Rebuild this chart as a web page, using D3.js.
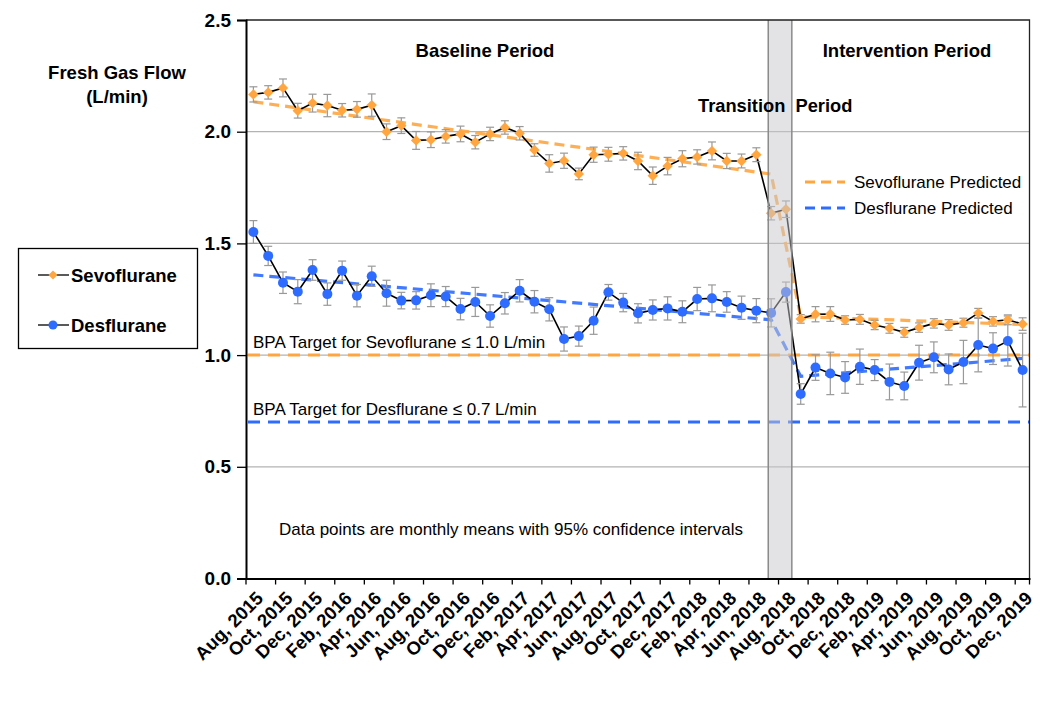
<!DOCTYPE html>
<html><head><meta charset="utf-8">
<script src="https://cdn.jsdelivr.net/npm/d3@7"></script>
<style>body{margin:0;background:#fff;} svg{display:block;font-family:"Liberation Sans",Arial,sans-serif;}</style>
</head><body><svg id="c" width="1050" height="714"></svg>
<script>
const months = ["Aug, 2015","Sep, 2015","Oct, 2015","Nov, 2015","Dec, 2015",
"Jan, 2016","Feb, 2016","Mar, 2016","Apr, 2016","May, 2016","Jun, 2016","Jul, 2016","Aug, 2016","Sep, 2016","Oct, 2016","Nov, 2016","Dec, 2016",
"Jan, 2017","Feb, 2017","Mar, 2017","Apr, 2017","May, 2017","Jun, 2017","Jul, 2017","Aug, 2017","Sep, 2017","Oct, 2017","Nov, 2017","Dec, 2017",
"Jan, 2018","Feb, 2018","Mar, 2018","Apr, 2018","May, 2018","Jun, 2018","Jul, 2018","Aug, 2018","Sep, 2018","Oct, 2018","Nov, 2018","Dec, 2018",
"Jan, 2019","Feb, 2019","Mar, 2019","Apr, 2019","May, 2019","Jun, 2019","Jul, 2019","Aug, 2019","Sep, 2019","Oct, 2019","Nov, 2019","Dec, 2019"];
const tickLabels = ["Aug, 2015","Oct, 2015","Dec, 2015","Feb, 2016","Apr, 2016","Jun, 2016","Aug, 2016","Oct, 2016","Dec, 2016","Feb, 2017","Apr, 2017","Jun, 2017","Aug, 2017","Oct, 2017","Dec, 2017","Feb, 2018","Apr, 2018","Jun, 2018","Aug, 2018","Oct, 2018","Dec, 2018","Feb, 2019","Apr, 2019","Jun, 2019","Aug, 2019","Oct, 2019","Dec, 2019"];
const sevo = [2.167,2.176,2.196,2.094,2.128,2.117,2.096,2.100,2.119,2.000,2.027,1.961,1.964,1.979,1.990,1.953,1.990,2.019,1.993,1.918,1.858,1.870,1.811,1.897,1.899,1.903,1.869,1.803,1.846,1.879,1.887,1.914,1.869,1.869,1.897,1.635,1.653,1.162,1.183,1.184,1.157,1.160,1.135,1.120,1.102,1.123,1.142,1.135,1.145,1.188,1.151,1.158,1.139];
const sevoCI = [0.034,0.03,0.04,0.033,0.04,0.05,0.03,0.035,0.05,0.035,0.035,0.04,0.035,0.03,0.035,0.03,0.03,0.03,0.03,0.028,0.039,0.034,0.026,0.034,0.031,0.03,0.039,0.039,0.039,0.036,0.032,0.04,0.034,0.031,0.031,0.03,0.037,0.019,0.034,0.033,0.019,0.022,0.021,0.022,0.022,0.021,0.021,0.024,0.02,0.021,0.021,0.022,0.028];
const des = [1.551,1.444,1.324,1.284,1.381,1.273,1.378,1.266,1.353,1.277,1.244,1.245,1.268,1.262,1.206,1.238,1.175,1.232,1.288,1.239,1.205,1.072,1.085,1.154,1.281,1.235,1.187,1.202,1.209,1.194,1.251,1.254,1.238,1.212,1.199,1.189,1.282,0.826,0.944,0.918,0.900,0.948,0.933,0.880,0.862,0.966,0.990,0.936,0.969,1.045,1.029,1.063,0.933];
const desCI = [0.051,0.043,0.048,0.054,0.046,0.05,0.043,0.05,0.045,0.058,0.037,0.039,0.051,0.045,0.048,0.065,0.05,0.048,0.05,0.05,0.052,0.054,0.045,0.061,0.035,0.041,0.043,0.045,0.052,0.049,0.052,0.06,0.046,0.052,0.054,0.063,0.045,0.046,0.057,0.095,0.071,0.079,0.047,0.08,0.062,0.078,0.069,0.069,0.097,0.12,0.071,0.112,0.165];
// predicted (segmented regression) knots: [month, value]
const sevoPred = [["Aug, 2015",2.134],["Jul, 2018",1.810],["Sep, 2018",1.172],["Dec, 2019",1.137]];
const desPred = [["Aug, 2015",1.359],["Jul, 2018",1.158],["Sep, 2018",0.905],["Dec, 2019",0.985]];
const targets = [{name:"BPA Target for Sevoflurane \u2264 1.0 L/min", value:1.0, key:"sevo"},{name:"BPA Target for Desflurane \u2264 0.7 L/min", value:0.7, key:"des"}];
const transitionMonths = ["Jul, 2018","Aug, 2018"];
const yTicks = [0,0.5,1.0,1.5,2.0,2.5];

const ORANGE = "#FFA640", BLUE = "#2E6BFF";
const col = {sevo:ORANGE, des:BLUE};
const svg = d3.select("#c");
const L = 246, R = 1030, T = 20, B = 578.5;
const x = d3.scaleBand().domain(months).range([L, R]).padding(0);
const cx = m => x(m) + x.bandwidth()/2;
const y = d3.scaleLinear().domain([0,2.5]).range([B, T]);

// gridlines
svg.append("g").selectAll("line").data(yTicks.filter(v=>v>0 && v<2.5)).join("line")
  .attr("x1",L).attr("x2",R).attr("y1",d=>y(d)).attr("y2",d=>y(d))
  .attr("stroke","#b3b3b3").attr("stroke-width",1.2);

// targets
svg.append("g").selectAll("line").data(targets).join("line")
  .attr("x1",L+2).attr("x2",R).attr("y1",d=>y(d.value)).attr("y2",d=>y(d.value))
  .attr("stroke",d=>col[d.key]).attr("stroke-width",3).attr("stroke-dasharray","12,8");
svg.append("g").selectAll("text").data(targets).join("text")
  .attr("x",253).attr("y",d=>y(d.value)-7).attr("font-size",17).attr("fill","#000").text(d=>d.name);

// predicted
const predLine = d3.line().x(d=>cx(d[0])).y(d=>y(d[1]));
[[sevoPred,ORANGE],[desPred,BLUE]].forEach(([p,c])=>{
  svg.append("path").attr("d",predLine(p)).attr("fill","none").attr("stroke",c)
    .attr("stroke-width",3.2).attr("stroke-dasharray","10,6").attr("opacity",0.9);
});

// data series
function series(vals, ci, color, shape){
  const g = svg.append("g");
  const line = d3.line().x((d,i)=>cx(months[i])).y(d=>y(d));
  g.append("path").attr("d",line(vals)).attr("fill","none").attr("stroke","#000").attr("stroke-width",1.6);
  const eb = g.append("g").attr("stroke","#999").attr("stroke-width",1.2);
  vals.forEach((v,i)=>{
    const xx = cx(months[i]);
    eb.append("line").attr("x1",xx).attr("x2",xx).attr("y1",y(v+ci[i])).attr("y2",y(v-ci[i]));
    eb.append("line").attr("x1",xx-4).attr("x2",xx+4).attr("y1",y(v+ci[i])).attr("y2",y(v+ci[i]));
    eb.append("line").attr("x1",xx-4).attr("x2",xx+4).attr("y1",y(v-ci[i])).attr("y2",y(v-ci[i]));
  });
  if(shape==="diamond"){
    g.selectAll("path.m").data(vals).join("path").attr("class","m")
      .attr("d",(d,i)=>{const a=cx(months[i]), b=y(d), s=5.2; return `M${a},${b-s}L${a+s},${b}L${a},${b+s}L${a-s},${b}Z`;})
      .attr("fill",color);
  } else {
    g.selectAll("circle").data(vals).join("circle")
      .attr("cx",(d,i)=>cx(months[i])).attr("cy",d=>y(d)).attr("r",5).attr("fill",color);
  }
}
series(des, desCI, BLUE, "circle");
series(sevo, sevoCI, ORANGE, "diamond");

// transition band
const bx0 = x(transitionMonths[0]) + 4.5, bx1 = x(transitionMonths[1]) + x.bandwidth() - 1.5;
svg.append("rect").attr("x",bx0).attr("y",T).attr("width",bx1-bx0).attr("height",B-T)
  .attr("fill","#c8c8ce").attr("opacity",0.5);
svg.append("line").attr("x1",bx0).attr("x2",bx0).attr("y1",T).attr("y2",B).attr("stroke","#8a8a8a").attr("stroke-width",1.5);
svg.append("line").attr("x1",bx1).attr("x2",bx1).attr("y1",T).attr("y2",B).attr("stroke","#8a8a8a").attr("stroke-width",1.5);

// plot border (top, right)
svg.append("path").attr("d",`M${L},${T}H${R-0.5}V${B}`).attr("fill","none").attr("stroke","#222").attr("stroke-width",1.3);

// y axis
const ya = svg.append("g").attr("transform",`translate(${L},0)`)
  .call(d3.axisLeft(y).tickValues(yTicks).tickFormat(d3.format(".1f")).tickSize(9).tickPadding(6));
ya.select(".domain").attr("stroke","#000").attr("stroke-width",2);
ya.selectAll(".tick line").attr("stroke","#000").attr("stroke-width",1.3);
ya.selectAll("text").attr("font-size",19).attr("font-weight","bold").attr("fill","#000").attr("font-family","Liberation Sans, Arial, sans-serif");

// x axis
const xa = svg.append("g").attr("transform",`translate(0,${B})`)
  .call(d3.axisBottom(x).tickValues([]).tickSizeOuter(0));
xa.select(".domain").attr("stroke","#000").attr("stroke-width",2);
const tickPos = tickLabels.map(m=>x(m)).concat([R-0.5]);
svg.append("g").selectAll("line").data(tickPos).join("line")
  .attr("x1",d=>d).attr("x2",d=>d).attr("y1",B).attr("y2",B+6).attr("stroke","#000").attr("stroke-width",1.3);
svg.append("g").selectAll("text").data(tickLabels).join("text")
  .attr("transform",m=>`translate(${cx(m)+3},${B+13}) rotate(-45)`)
  .attr("text-anchor","end").attr("dy","0.6em").attr("font-size",18.5).attr("font-weight","bold").text(m=>m);

// titles
svg.append("text").attr("x",117).attr("y",79).attr("text-anchor","middle").attr("font-size",18.5).attr("font-weight","bold").text("Fresh Gas Flow");
svg.append("text").attr("x",117).attr("y",103).attr("text-anchor","middle").attr("font-size",18.5).attr("font-weight","bold").text("(L/min)");
svg.append("text").attr("x",485).attr("y",57).attr("text-anchor","middle").attr("font-size",18.5).attr("font-weight","bold").text("Baseline Period");
svg.append("text").attr("x",907).attr("y",57).attr("text-anchor","middle").attr("font-size",18.5).attr("font-weight","bold").text("Intervention Period");
svg.append("text").attr("x",698).attr("y",112).attr("text-anchor","start").attr("font-size",18.3).attr("font-weight","bold").text("Transition\u00a0\u00a0Period");
svg.append("text").attr("x",511).attr("y",535).attr("text-anchor","middle").attr("font-size",17).text("Data points are monthly means with 95% confidence intervals");

// predicted legend
const pl = [{t:"Sevoflurane Predicted",c:ORANGE,y:182},{t:"Desflurane Predicted",c:BLUE,y:208}];
pl.forEach(d=>{
  svg.append("line").attr("x1",805).attr("x2",845).attr("y1",d.y).attr("y2",d.y).attr("stroke",d.c).attr("stroke-width",3.2).attr("stroke-dasharray","10,6");
  svg.append("text").attr("x",854).attr("y",d.y+6).attr("font-size",17).text(d.t);
});

// series legend
svg.append("rect").attr("x",18.5).attr("y",248.5).attr("width",179).attr("height",100).attr("fill","#fff").attr("stroke","#000").attr("stroke-width",1.3);
const sl = [{t:"Sevoflurane",c:ORANGE,s:"diamond",y:275},{t:"Desflurane",c:BLUE,s:"circle",y:325}];
sl.forEach(d=>{
  svg.append("line").attr("x1",38).attr("x2",69).attr("y1",d.y).attr("y2",d.y).attr("stroke","#000").attr("stroke-width",1.3);
  if(d.s==="diamond") svg.append("path").attr("d",`M53,${d.y-4.5}L57.5,${d.y}L53,${d.y+4.5}L48.5,${d.y}Z`).attr("fill",d.c);
  else svg.append("circle").attr("cx",53).attr("cy",d.y).attr("r",4.5).attr("fill",d.c);
  svg.append("text").attr("x",71).attr("y",d.y+6.5).attr("font-size",18.5).attr("font-weight","bold").text(d.t);
});
</script></body></html>
